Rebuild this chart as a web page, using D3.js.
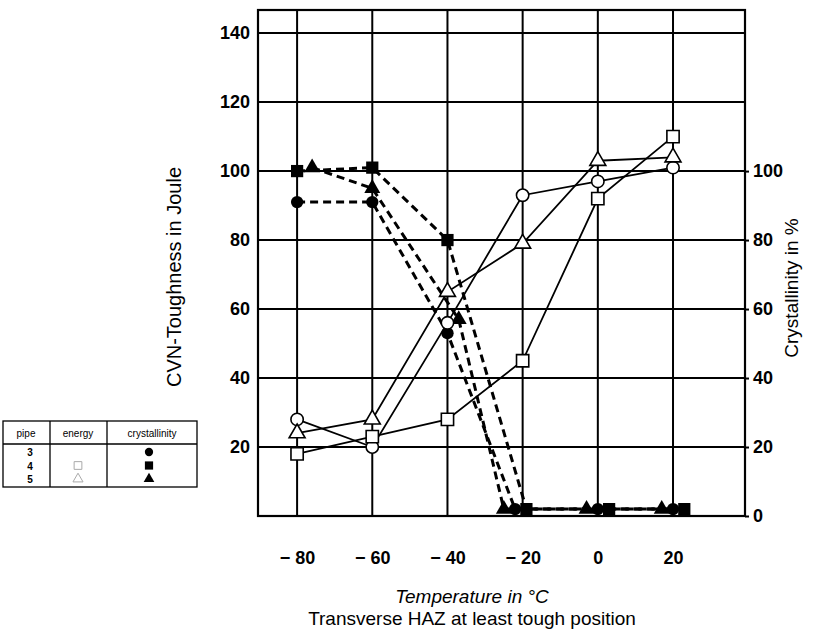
<!DOCTYPE html>
<html>
<head>
<meta charset="utf-8">
<title>CVN toughness, transverse HAZ</title>
<style>
  body { margin: 0; background: #fff; }
  text { font-family: "Liberation Sans", Arial, sans-serif; fill: #000; }
  .grid line { stroke: #000; stroke-width: 2px; }
  .frame { fill: none; stroke: #000; stroke-width: 2.2px; }
  .energy { fill: none; stroke: #000; stroke-width: 1.8px; }
  .cryst { fill: none; stroke: #000; stroke-width: 3px; stroke-dasharray: 8,5; }
  .tick text { font-size: 18px; font-weight: bold; }
  .legend line, .legend rect { stroke: #000; stroke-width: 1.3px; fill: none; }
</style>
</head>
<body>
<svg class="chart" width="838" height="632"></svg>
<script src="https://d3js.org/d3.v7.min.js"></script>
<script>
// values
var temps = [-80, -60, -40, -20, 0, 20];
var energy3 = [28, 20, 56, 93, 97, 101];
var energy4 = [18, 23, 28, 45, 92, 110];
var energy5 = [24, 28, 65, 79, 103, 104];
// crystallinity markers sit a little off the grid temps in the original
var crystTemps3 = [-80, -60, -40, -22, 0, 20];
var crystTemps4 = [-80, -60, -40, -19, 3, 23];
var crystTemps5 = [-76, -60, -37, -25, -3, 17];
var cryst3 = [91, 91, 53, 2, 2, 2];
var cryst4 = [100, 101, 80, 2, 2, 2];
var cryst5 = [101, 95, 57, 2, 2, 2];
var xTicks = [-80, -60, -40, -20, 0, 20];
var leftTicks = [20, 40, 60, 80, 100, 120, 140];
var rightTicks = [0, 20, 40, 60, 80, 100];
var pipes = ["3", "4", "5"];

var svg = d3.select(".chart");
var plot = {left: 258, right: 745, top: 10, bottom: 516};

var x = d3.scaleLinear().domain([-90.4, 39.15]).range([plot.left, plot.right]);
var y = d3.scaleLinear().domain([0, 146.7]).range([plot.bottom, plot.top]);

var shapes = {"3": d3.symbolCircle, "4": d3.symbolSquare, "5": d3.symbolTriangle};
var sizes = {"3": 120, "4": 150, "5": 110};

// grid
var grid = svg.append("g").attr("class", "grid");
grid.selectAll("line.h").data(leftTicks).enter().append("line")
    .attr("x1", plot.left).attr("x2", plot.right)
    .attr("y1", function(d) { return y(d); }).attr("y2", function(d) { return y(d); });
grid.selectAll("line.v").data(xTicks).enter().append("line")
    .attr("x1", function(d) { return x(d); }).attr("x2", function(d) { return x(d); })
    .attr("y1", plot.top).attr("y2", plot.bottom);
svg.append("rect").attr("class", "frame")
    .attr("x", plot.left).attr("y", plot.top)
    .attr("width", plot.right - plot.left).attr("height", plot.bottom - plot.top);

// axes (labels only, the grid does the lines)
var fmtX = function(d) { return d < 0 ? "\u2212 " + Math.abs(d) : d; };
svg.append("g").attr("transform", "translate(0," + plot.bottom + ")")
    .call(d3.axisBottom(x).tickValues(xTicks).tickFormat(fmtX).tickSize(0).tickPadding(35))
    .call(function(g) { g.select(".domain").remove(); });
svg.append("g").attr("transform", "translate(" + plot.left + ",0)")
    .call(d3.axisLeft(y).tickValues(leftTicks).tickSize(0).tickPadding(8))
    .call(function(g) { g.select(".domain").remove(); });
svg.append("g").attr("transform", "translate(" + plot.right + ",0)")
    .call(d3.axisRight(y).tickValues(rightTicks).tickSize(4).tickPadding(4))
    .call(function(g) {
      g.select(".domain").remove();
      g.selectAll(".tick line").attr("stroke", "#000").attr("stroke-width", 2);
    });

// series
var energySeries = [
  {pipe: "3", t: temps, v: energy3},
  {pipe: "4", t: temps, v: energy4},
  {pipe: "5", t: temps, v: energy5}
];
var crystSeries = [
  {pipe: "3", t: crystTemps3, v: cryst3},
  {pipe: "4", t: crystTemps4, v: cryst4},
  {pipe: "5", t: crystTemps5, v: cryst5}
];
function pts(s) { return s.t.map(function(t, i) { return [t, s.v[i]]; }); }
var line = d3.line().x(function(d) { return x(d[0]); }).y(function(d) { return y(d[1]); });

svg.append("g").selectAll("path").data(crystSeries).enter().append("path")
    .attr("class", "cryst").attr("d", function(s) { return line(pts(s)); });
svg.append("g").selectAll("path").data(energySeries).enter().append("path")
    .attr("class", "energy").attr("d", function(s) { return line(pts(s)); });

crystSeries.forEach(function(s) {
  svg.append("g").selectAll("path").data(pts(s)).enter().append("path")
      .attr("d", d3.symbol().type(shapes[s.pipe]).size(sizes[s.pipe]))
      .attr("transform", function(d) { return "translate(" + x(d[0]) + "," + y(d[1]) + ")"; })
      .attr("fill", "#000");
});
energySeries.forEach(function(s) {
  svg.append("g").selectAll("path").data(pts(s)).enter().append("path")
      .attr("d", d3.symbol().type(shapes[s.pipe]).size(sizes[s.pipe]))
      .attr("transform", function(d) { return "translate(" + x(d[0]) + "," + y(d[1]) + ")"; })
      .attr("fill", "#fff").attr("stroke", "#000").attr("stroke-width", 1.6);
});

// axis titles
svg.append("text").attr("transform", "translate(181,277) rotate(-90)")
    .attr("text-anchor", "middle").style("font-size", "20px")
    .text("CVN-Toughness in Joule");
svg.append("text").attr("transform", "translate(798,288) rotate(-90)")
    .attr("text-anchor", "middle").style("font-size", "19px")
    .text("Crystallinity in %");
svg.append("text").attr("x", 472).attr("y", 603)
    .attr("text-anchor", "middle").style("font-size", "19px").style("font-style", "italic")
    .text("Temperature in \u00b0C");
svg.append("text").attr("x", 472).attr("y", 625)
    .attr("text-anchor", "middle").style("font-size", "19px")
    .text("Transverse HAZ at least tough position");

// legend table
var lg = svg.append("g").attr("class", "legend");
lg.append("rect").attr("x", 3).attr("y", 421).attr("width", 194).attr("height", 66);
lg.append("line").attr("x1", 3).attr("x2", 197).attr("y1", 444).attr("y2", 444);
lg.append("line").attr("x1", 50).attr("x2", 50).attr("y1", 421).attr("y2", 487);
lg.append("line").attr("x1", 107).attr("x2", 107).attr("y1", 421).attr("y2", 487);
[["pipe", 26], ["energy", 78], ["crystallinity", 152]].forEach(function(h) {
  lg.append("text").attr("x", h[1]).attr("y", 437).attr("text-anchor", "middle")
      .style("font-size", "10px").text(h[0]);
});
pipes.forEach(function(p, i) {
  var ry = 452 + i * 13.5;
  lg.append("text").attr("x", 30).attr("y", ry + 4).attr("text-anchor", "middle")
      .style("font-size", "10px").style("font-weight", "bold").text(p);
  lg.append("path").attr("d", d3.symbol().type(shapes[p]).size(sizes[p] * 0.4))
      .attr("transform", "translate(78," + ry + ")")
      .attr("fill", "none").attr("stroke", i === 0 ? "none" : "#aaa").attr("stroke-width", 1);
  lg.append("path").attr("d", d3.symbol().type(shapes[p]).size(sizes[p] * 0.45))
      .attr("transform", "translate(149," + ry + ")")
      .attr("fill", "#000");
});
</script>
</body>
</html>
